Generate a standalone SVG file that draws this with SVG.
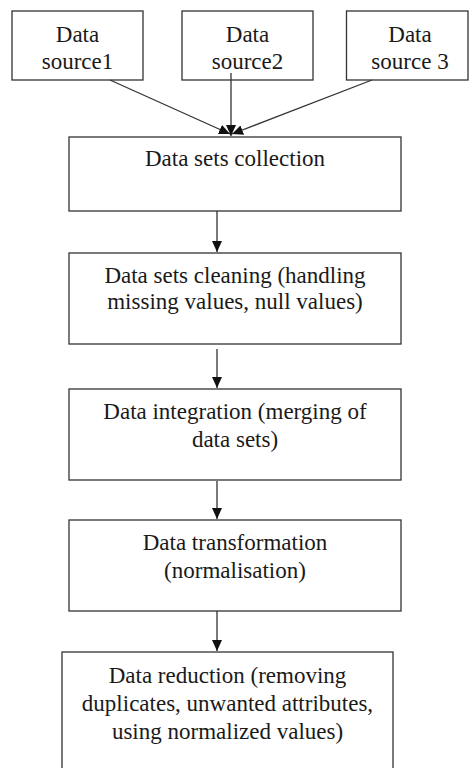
<svg xmlns="http://www.w3.org/2000/svg" width="469" height="768" viewBox="0 0 469 768">
<style>
.box{fill:#fff;stroke:#333;stroke-width:1.3}
.t{font-family:"Liberation Serif",serif;font-size:23px;fill:#1a1a1a;text-anchor:middle}
.c{stroke:#333;stroke-width:1.3;fill:none;marker-end:url(#ah)}
</style>
<defs>
<marker id="ah" markerUnits="userSpaceOnUse" markerWidth="12" markerHeight="11" refX="11" refY="5" orient="auto">
<path d="M0,0 L11,5 L0,10 z" fill="#111"/>
</marker>
</defs>
<rect width="469" height="768" fill="#fff"/>
<g id="src1"><rect class="box" x="12" y="11" width="131" height="69"/><text class="t" x="77.5" y="42" font-family="Liberation Serif">Data</text><text class="t" x="77.5" y="69">source1</text></g>
<g id="src2"><rect class="box" x="182" y="11" width="131" height="69"/><text class="t" x="247.5" y="42">Data</text><text class="t" x="247.5" y="69">source2</text></g>
<g id="src3"><rect class="box" x="346.5" y="11" width="121.5" height="69"/><text class="t" x="410" y="42">Data</text><text class="t" x="410" y="69">source 3</text></g>
<g id="collection"><rect class="box" x="69" y="137" width="332" height="74"/><text class="t" x="235" y="166">Data sets collection</text></g>
<g id="cleaning"><rect class="box" x="69" y="253" width="332" height="91"/><text class="t" x="235" y="283">Data sets cleaning (handling</text><text class="t" x="235" y="309">missing values, null values)</text></g>
<g id="integration"><rect class="box" x="69" y="389" width="332" height="91"/><text class="t" x="235" y="419">Data integration (merging of</text><text class="t" x="235" y="447">data sets)</text></g>
<g id="transformation"><rect class="box" x="69" y="520" width="332" height="91"/><text class="t" x="235" y="550">Data transformation</text><text class="t" x="235" y="578">(normalisation)</text></g>
<g id="reduction"><rect class="box" x="62" y="652" width="331" height="120"/><text class="t" x="227.5" y="683">Data reduction (removing</text><text class="t" x="227.5" y="711">duplicates, unwanted attributes,</text><text class="t" x="227.5" y="739">using normalized values)</text></g>
<g id="connectors">
<line class="c" x1="110" y1="80" x2="230" y2="134"/>
<line class="c" x1="231" y1="73" x2="231" y2="136"/>
<line class="c" x1="372" y1="80" x2="232" y2="134"/>
<line class="c" x1="217" y1="211" x2="217" y2="252"/>
<line class="c" x1="217" y1="349" x2="217" y2="388"/>
<line class="c" x1="217" y1="481" x2="217" y2="519"/>
<line class="c" x1="217" y1="611" x2="217" y2="651"/>
</g>
</svg>
